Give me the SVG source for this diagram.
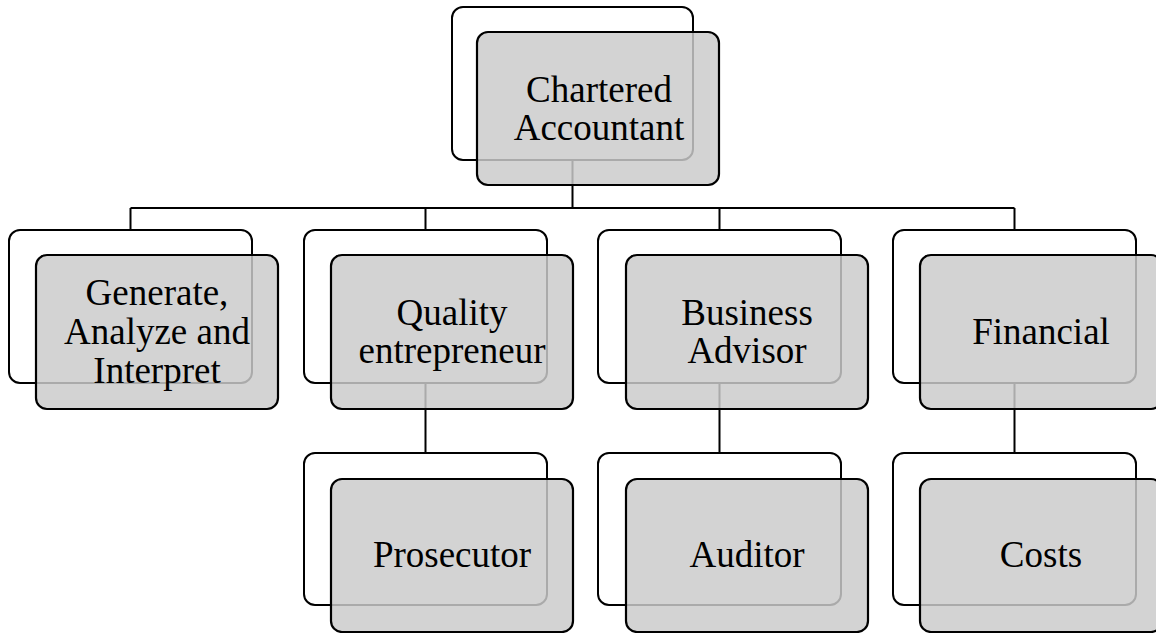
<svg xmlns="http://www.w3.org/2000/svg" width="1156" height="633" viewBox="0 0 1156 633">
<style>
.back{fill:#ffffff;stroke:#000;stroke-width:2}
.front{fill:#cbcbcb;fill-opacity:0.84;stroke:#000;stroke-width:2.2}
.lbl{font-family:"Liberation Serif","Times New Roman",serif;font-size:37px;fill:#000;text-anchor:middle}
.conn{fill:none;stroke:#000;stroke-width:2}
</style>
<rect width="1156" height="633" fill="#fff"/>
<g id="connectors">
<path class="conn" d="M572.5 160V208M130.5 208H1014.5M130.5 208V230M425.5 208V230M719.5 208V230M1014.5 208V230"/>
<path class="conn" d="M425.5 383V453M719.5 383V453M1014.5 383V453"/>
</g>
<g id="n-chartered">
<rect class="back" x="452" y="7" width="241" height="153" rx="11"/>
<rect class="front" x="477" y="32" width="242" height="153" rx="11"/>
<text class="lbl" x="599" y="102">Chartered</text>
<text class="lbl" x="599" y="140">Accountant</text>
</g>
<g id="n-generate">
<rect class="back" x="9" y="230" width="243" height="153" rx="11"/>
<rect class="front" x="36" y="255" width="242" height="154" rx="11"/>
<text class="lbl" x="157" y="305">Generate,</text>
<text class="lbl" x="157" y="343.5">Analyze and</text>
<text class="lbl" x="157" y="382.5">Interpret</text>
</g>
<g id="n-quality">
<rect class="back" x="304" y="230" width="243" height="153" rx="11"/>
<rect class="front" x="331" y="255" width="242" height="154" rx="11"/>
<text class="lbl" x="452" y="325">Quality</text>
<text class="lbl" x="452" y="363">entrepreneur</text>
</g>
<g id="n-business">
<rect class="back" x="598" y="230" width="243" height="153" rx="11"/>
<rect class="front" x="626" y="255" width="242" height="154" rx="11"/>
<text class="lbl" x="747" y="325">Business</text>
<text class="lbl" x="747" y="363">Advisor</text>
</g>
<g id="n-financial">
<rect class="back" x="893" y="230" width="243" height="153" rx="11"/>
<rect class="front" x="920" y="255" width="242" height="154" rx="11"/>
<text class="lbl" x="1041" y="344">Financial</text>
</g>
<g id="n-prosecutor">
<rect class="back" x="304" y="453" width="243" height="152" rx="11"/>
<rect class="front" x="331" y="479" width="242" height="153" rx="11"/>
<text class="lbl" x="452" y="567">Prosecutor</text>
</g>
<g id="n-auditor">
<rect class="back" x="598" y="453" width="243" height="152" rx="11"/>
<rect class="front" x="626" y="479" width="242" height="153" rx="11"/>
<text class="lbl" x="747" y="567">Auditor</text>
</g>
<g id="n-costs">
<rect class="back" x="893" y="453" width="243" height="152" rx="11"/>
<rect class="front" x="920" y="479" width="242" height="153" rx="11"/>
<text class="lbl" x="1041" y="567">Costs</text>
</g>
</svg>
